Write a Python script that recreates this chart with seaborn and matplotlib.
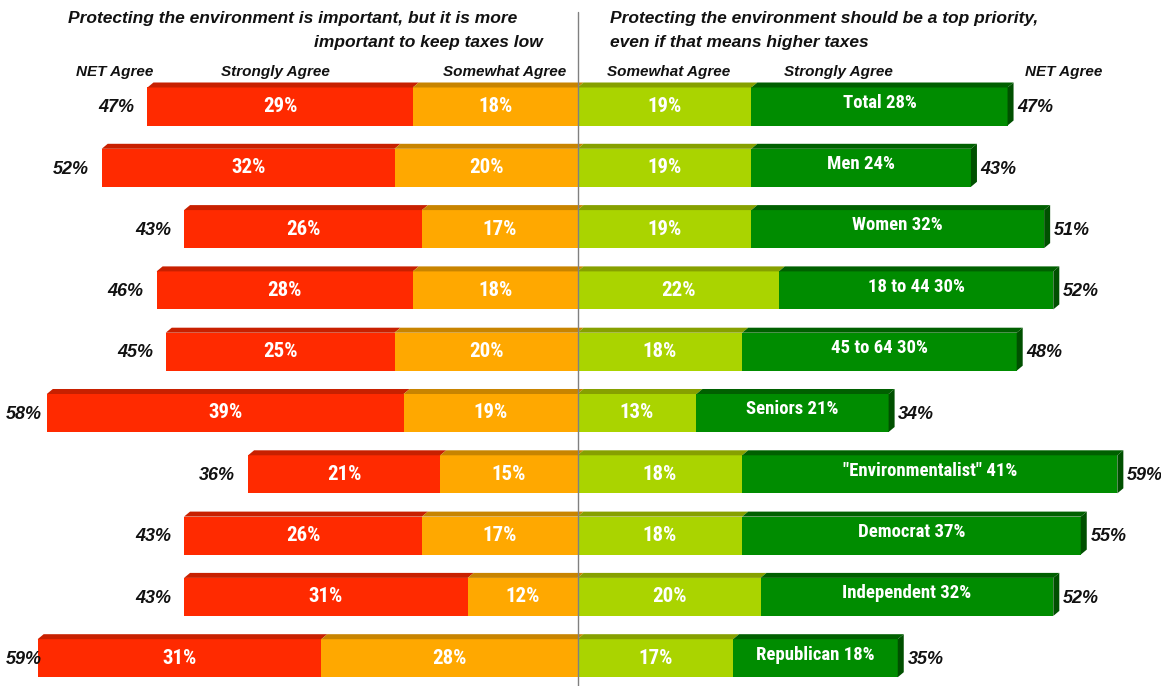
import matplotlib
matplotlib.use("Agg")
import matplotlib.pyplot as plt
from matplotlib.patches import Polygon
from matplotlib import font_manager as fm
import seaborn as sns

# ---------------- data ----------------
groups = ["Total", "Men", "Women", "18 to 44", "45 to 64", "Seniors",
          '"Environmentalist"', "Democrat", "Independent", "Republican"]
low_strong = [29, 32, 26, 28, 25, 39, 21, 26, 31, 31]
low_somewhat = [18, 20, 17, 18, 20, 19, 15, 17, 12, 28]
low_net = [47, 52, 43, 46, 45, 58, 36, 43, 43, 59]
top_somewhat = [19, 19, 19, 22, 18, 13, 18, 18, 20, 17]
top_strong = [28, 24, 32, 30, 30, 21, 41, 37, 32, 18]
top_net = [47, 43, 51, 52, 48, 34, 59, 55, 52, 35]

title_left = ["Protecting the environment is important, but it is more",
              "important to keep taxes low"]
title_right = ["Protecting the environment should be a top priority,",
               "even if that means higher taxes"]
col_headers = ["NET Agree", "Strongly Agree", "Somewhat Agree",
               "Somewhat Agree", "Strongly Agree", "NET Agree"]

# ---------------- style ----------------
RED, RED_D = "#FF2A00", "#C82000"
ORG, ORG_D = "#FFA800", "#C88400"
LGR, LGR_D = "#AAD400", "#86A000"
GRN, GRN_D = "#008C00", "#006000"

sns.set_theme(style="white")
plt.rcParams["font.family"] = ["Liberation Sans", "DejaVu Sans"]

# pick a narrow bold face if one is installed
fl = fm.fontManager.ttflist
names = {f.name for f in fl}
narrow_kw = None
for nm in ["Liberation Sans Narrow", "Roboto Condensed", "Open Sans Condensed",
           "DejaVu Sans Condensed", "Noto Sans Condensed"]:
    if nm in names:
        narrow_kw = dict(family=[nm, "DejaVu Sans"], fontweight="bold")
        break
if narrow_kw is None:
    for base in ["DejaVu Sans", "Noto Sans", "Open Sans", "Roboto"]:
        if any(f.name == base and "condensed" in str(f.stretch).lower() for f in fl):
            narrow_kw = dict(family=[base], fontweight="bold", fontstretch="condensed")
            break
if narrow_kw is None:
    narrow_kw = dict(family=["Liberation Sans", "DejaVu Sans"], fontweight="bold")
    big_fs, grn_fs = 13, 12
else:
    big_fs, grn_fs = 15, 13.5

W, H = 1161, 686
fig = plt.figure(figsize=(W / 100, H / 100), dpi=100)
ax = fig.add_axes([0, 0, 1, 1])

px_per_pct = 9.15
cx = 577.5
row0, row_step = 106.5, 61.3
xmin = -cx / px_per_pct
ax.set_xlim(xmin, (W - cx) / px_per_pct)

bh = 0.62
dx = 6 / px_per_pct
dy = 5 / row_step

neg_net = [-v for v in low_net]
neg_som = [-v for v in low_somewhat]

common = dict(y=groups, order=groups, orient="h", width=bh, saturation=1,
              linewidth=0, ax=ax, errorbar=None)
sns.barplot(x=neg_net, color=RED, **common)
sns.barplot(x=neg_som, color=ORG, **common)
sns.barplot(x=top_net, color=GRN, **common)
sns.barplot(x=top_somewhat, color=LGR, **common)

ax.set_ylim((H - row0) / row_step, -row0 / row_step)
ax.axis("off")


def top_face(x0, x1, yt, color):
    ax.add_patch(Polygon([(x0, yt), (x1, yt), (x1 + dx, yt - dy), (x0 + dx, yt - dy)],
                         closed=True, facecolor=color, edgecolor="none", zorder=3))


min_right = xmin + 42 / px_per_pct
for i in range(len(groups)):
    yt = i - bh / 2
    yb = i + bh / 2
    # top faces
    top_face(-low_net[i], -low_somewhat[i], yt, RED_D)
    top_face(-low_somewhat[i], 0, yt, ORG_D)
    top_face(0, top_somewhat[i], yt, LGR_D)
    top_face(top_somewhat[i], top_net[i], yt, GRN_D)
    # right side face
    xr = top_net[i]
    ax.add_patch(Polygon([(xr, yt), (xr + dx, yt - dy), (xr + dx, yb - dy), (xr, yb)],
                         closed=True, facecolor="#005000", edgecolor="none", zorder=3))

    # in-bar labels
    ax.text(-(low_somewhat[i] + low_strong[i] / 2), i, f"{low_strong[i]}%",
            ha="center", va="center", color="white", fontsize=big_fs, zorder=5,
            **narrow_kw)
    ax.text(-low_somewhat[i] / 2, i, f"{low_somewhat[i]}%",
            ha="center", va="center", color="white", fontsize=big_fs, zorder=5,
            **narrow_kw)
    ax.text(top_somewhat[i] / 2, i, f"{top_somewhat[i]}%",
            ha="center", va="center", color="white", fontsize=big_fs, zorder=5,
            **narrow_kw)
    ax.text(top_somewhat[i] + top_strong[i] / 2, i - 0.06,
            f"{groups[i]} {top_strong[i]}%",
            ha="center", va="center", color="white", fontsize=grn_fs, zorder=5,
            **narrow_kw)
    # NET labels
    ax.text(max(-low_net[i] - 1.4, min_right), i + 0.02, f"{low_net[i]}%",
            ha="right", va="center", fontsize=13, fontweight="bold",
            fontstyle="italic", color="#111111", zorder=6)
    ax.text(top_net[i] + dx + 0.4, i + 0.02, f"{top_net[i]}%", ha="left", va="center",
            fontsize=13, fontweight="bold", fontstyle="italic", color="#111111")

# center divider
ax.plot([0, 0], [-(row0 - 12) / row_step, (H - row0) / row_step], color="#808080",
        linewidth=1, zorder=6)

# titles
tkw = dict(fontsize=12.5, fontweight="bold", fontstyle="italic", color="#111111",
           va="center")
fig.text(68 / W, 1 - 18 / H, title_left[0], ha="left", **tkw)
fig.text(543 / W, 1 - 42 / H, title_left[1], ha="right", **tkw)
fig.text(610 / W, 1 - 18 / H, title_right[0], ha="left", **tkw)
fig.text(610 / W, 1 - 42 / H, title_right[1], ha="left", **tkw)

hdr_x = [115, 275, 505, 669, 838, 1064]
for hx, lab in zip(hdr_x, col_headers):
    fig.text(hx / W, 1 - 72 / H, lab, ha="center", va="center", fontsize=11,
             fontweight="bold", fontstyle="italic", color="#111111")

fig.savefig("out.png", dpi=100)
